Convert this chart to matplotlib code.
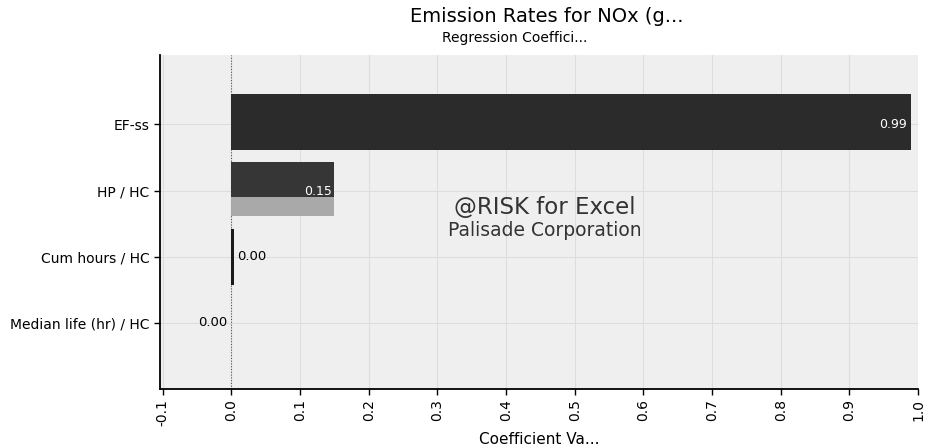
import matplotlib
matplotlib.use("Agg")
import matplotlib.pyplot as plt
import numpy as np

categories = ["EF-ss", "HP / HC", "Cum hours / HC", "Median life (hr) / HC"]
values = [0.99, 0.15, 0.004, -0.001]
labels = ["0.99", "0.15", "0.00", "0.00"]
xticks = [-0.1, 0.0, 0.1, 0.2, 0.3, 0.4, 0.5, 0.6, 0.7, 0.8, 0.9, 1.0]

plt.rcParams['font.family'] = ['DejaVu Sans']

fig = plt.figure(figsize=(9.43, 4.47), dpi=100)
ax = fig.add_axes([160/943, 1 - 389/447, (918-160)/943, (389-55)/447])
ax.set_facecolor("#efefef")

y = np.arange(len(categories))
h = 0.84
dark = ["#2b2b2b", "#363636", "#1a1a1a", "#1a1a1a"]
for i, (v, c) in enumerate(zip(values, dark)):
    if i == 1:
        # upper dark segment and lower lighter segment
        ax.barh(y[i] - 0.165, v, height=0.53, color=c, zorder=3)
        ax.barh(y[i] + 0.245, v, height=0.29, color="#a9a9a9", zorder=3)
    else:
        ax.barh(y[i] - 0.04 if i == 0 else y[i], v, height=h, color=c, zorder=3)

# value labels
ax.text(values[0] - 0.006, y[0], labels[0], color="white", ha="right", va="center", fontsize=9, zorder=4)
ax.text(values[1] - 0.003, y[1] + 0.02, labels[1], color="white", ha="right", va="center", fontsize=9, zorder=4)
ax.text(values[2] + 0.004, y[2], labels[2], color="black", ha="left", va="center", fontsize=9.5, zorder=4)
ax.text(values[3] - 0.005, y[3], labels[3], color="black", ha="right", va="center", fontsize=9.5, zorder=4)

ax.set_xlim(-0.104, 1.0)
ax.set_ylim(4.0, -1.05)
ax.set_yticks(y)
ax.set_yticklabels(categories, fontsize=10)
ax.set_xticks(xticks)
ax.set_xticklabels([f"{t:.1f}" for t in xticks], rotation=90, fontsize=10)
ax.grid(True, color="#dddddd", linewidth=0.8, zorder=1)
ax.axvline(0, color="#555555", linestyle=(0, (1, 1.5)), linewidth=0.8, zorder=2)
for s in ["top", "right"]:
    ax.spines[s].set_visible(False)
ax.spines["left"].set_linewidth(1.3)
ax.spines["bottom"].set_linewidth(1.3)
ax.tick_params(axis="both", length=4, width=1)
ax.set_xlabel("Coefficient Va...", fontsize=11, labelpad=4)

fig.text(547/943, 1 - 17/447, "Emission Rates for NOx (g...", ha="center", va="center", fontsize=14)
fig.text(515/943, 1 - 38/447, "Regression Coeffici...", ha="center", va="center", fontsize=10)
fig.text(545/943, 1 - 207/447, "@RISK for Excel", ha="center", va="center", fontsize=16.5, color="#333333", zorder=5)
fig.text(545/943, 1 - 231/447, "Palisade Corporation", ha="center", va="center", fontsize=13.5, color="#333333", zorder=5)

fig.savefig("out.png", dpi=100)
